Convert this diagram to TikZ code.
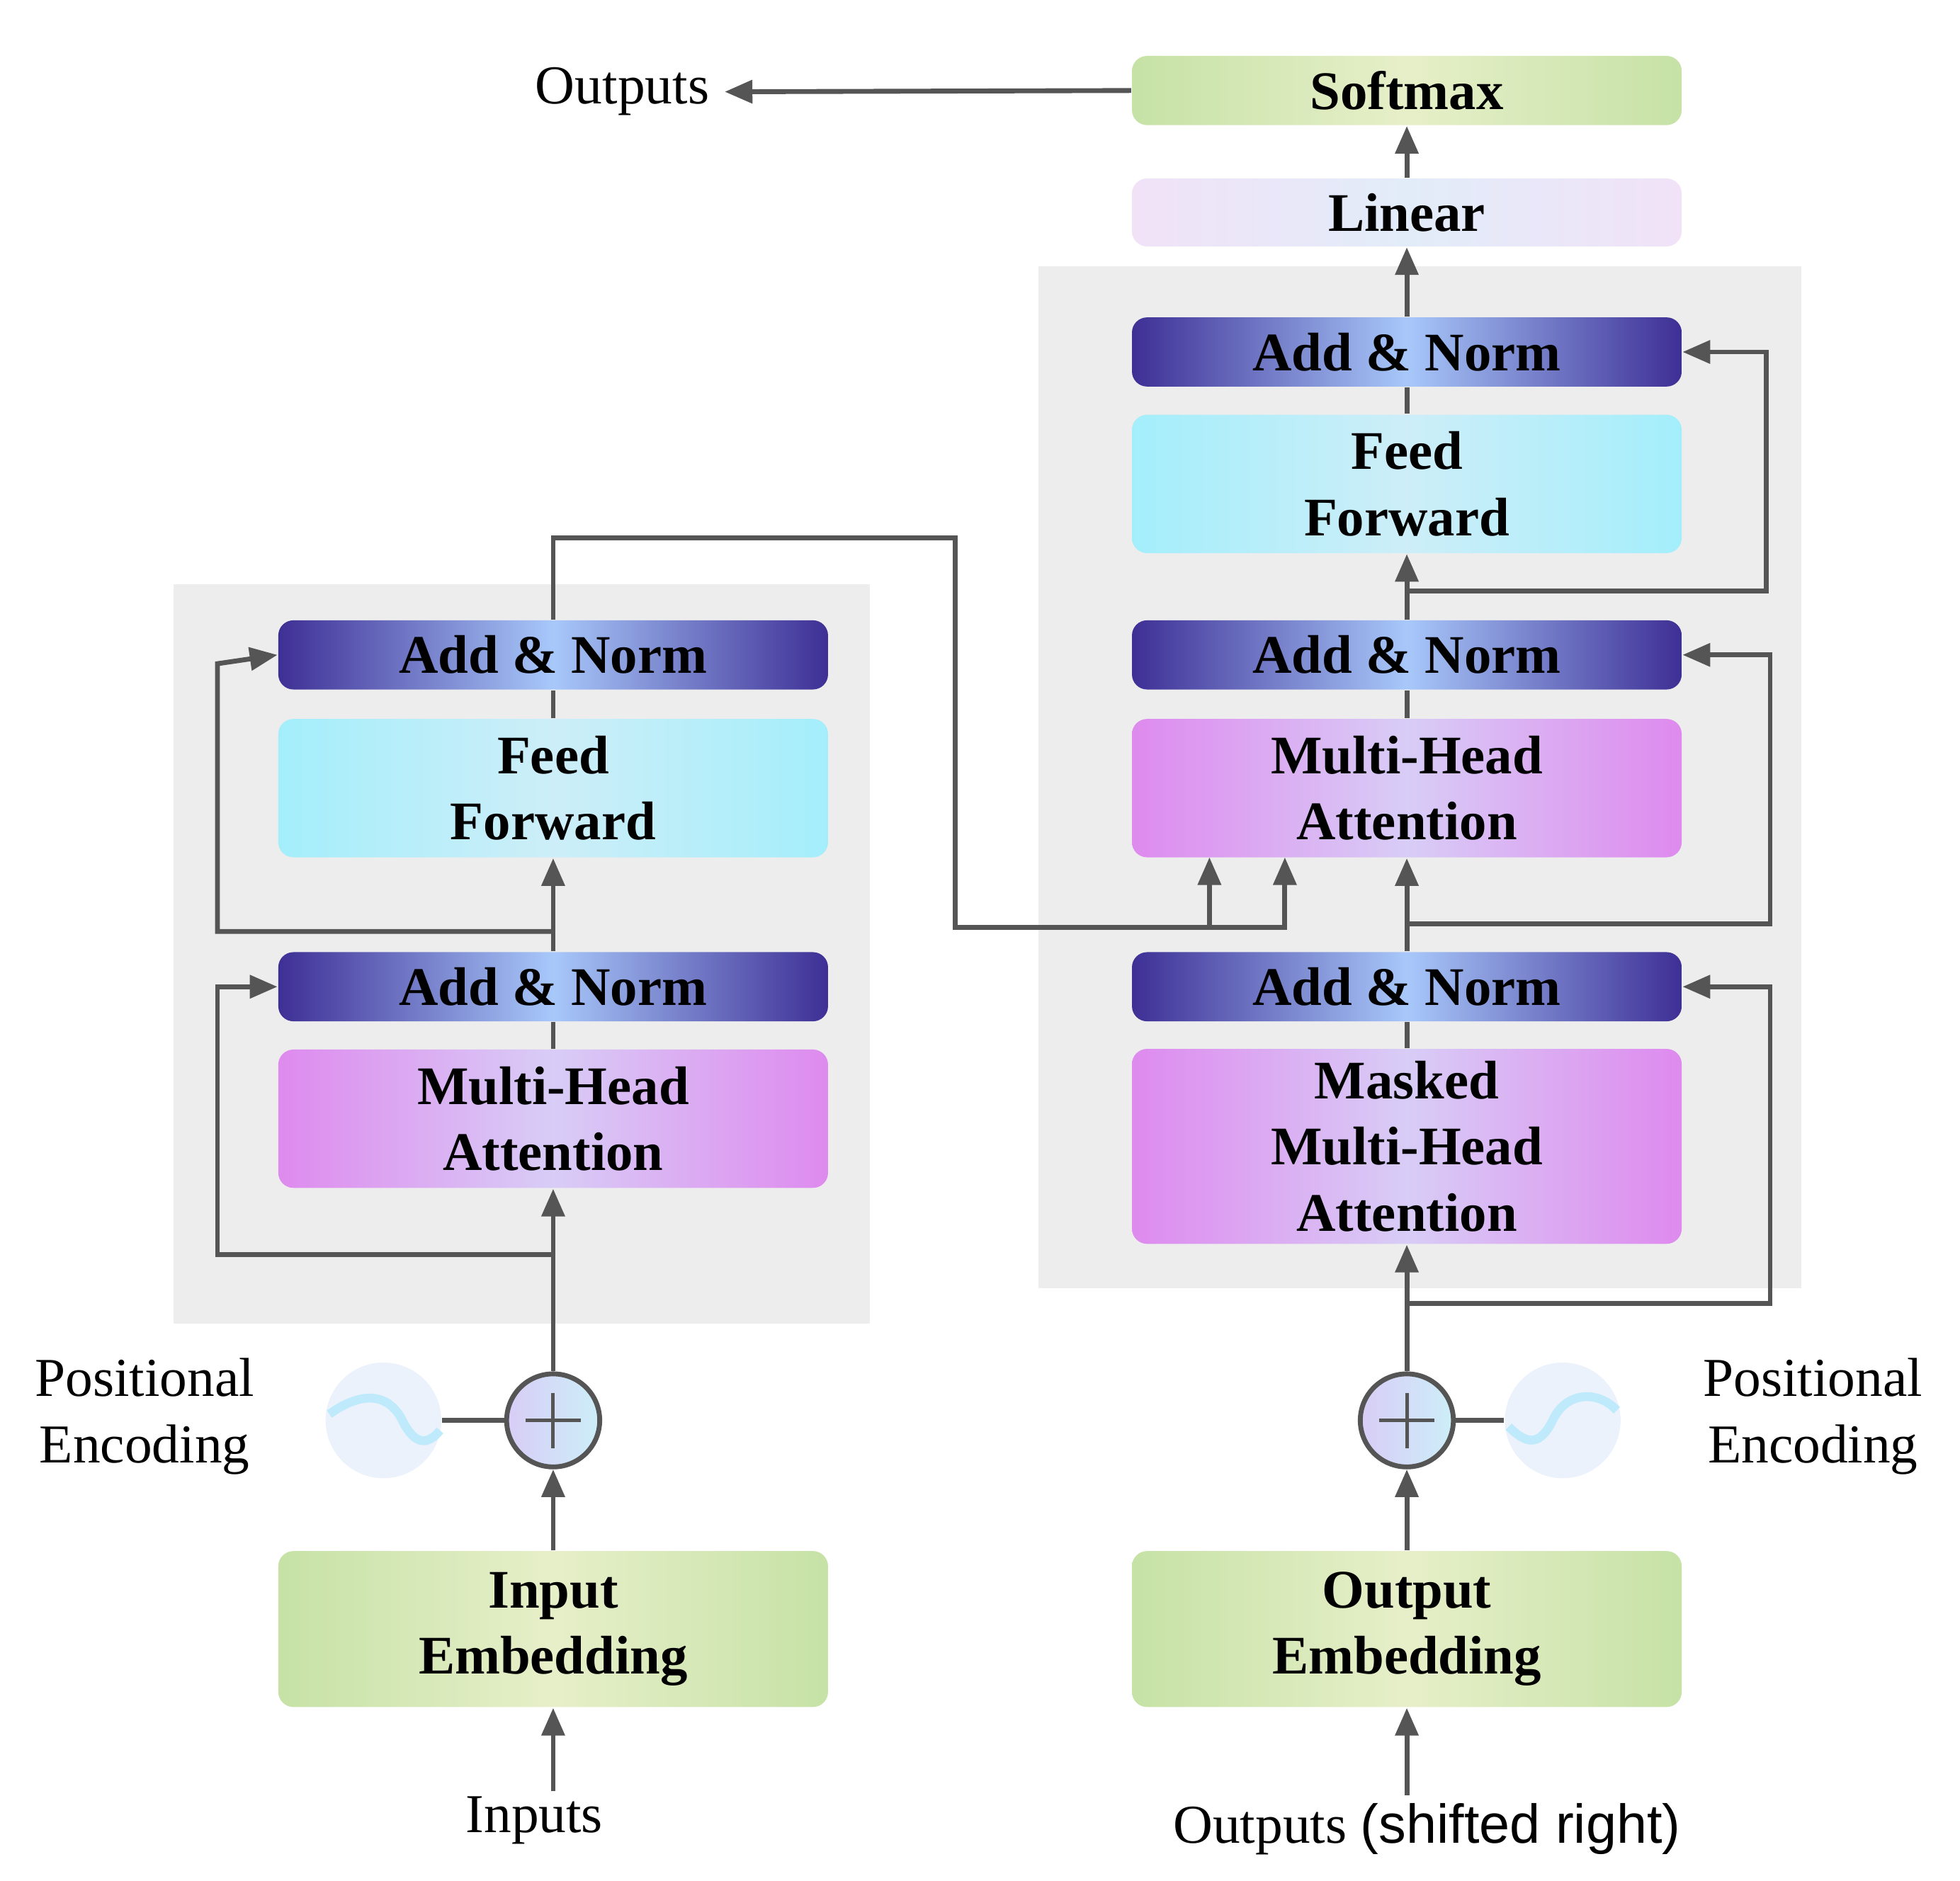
\documentclass[tikz,border=0pt]{standalone}
\usepackage{fontspec}
\setmainfont{Liberation Serif}
\newfontfamily\sansf{Liberation Sans}
\usetikzlibrary{arrows.meta,shadings}
\definecolor{ln}{HTML}{555555}
\definecolor{anD}{HTML}{3E2F95}
\definecolor{anL}{HTML}{A8C8FA}
\definecolor{ffL}{HTML}{CDEEF8}
\definecolor{ffD}{HTML}{A4EEFB}
\definecolor{mhD}{HTML}{DE8AEE}
\definecolor{mhL}{HTML}{D8CDF6}
\definecolor{emD}{HTML}{C6E2A6}
\definecolor{emL}{HTML}{E7EFC9}
\definecolor{liD}{HTML}{F1E2F8}
\definecolor{liL}{HTML}{E2ECF9}
\begin{document}
\begin{tikzpicture}[x=0.01cm,y=-0.01cm,
  box/.style={rounded corners=0.12cm,minimum width=4.37cm,align=center,
    font=\bfseries\fontsize{12.3}{15}\selectfont,inner sep=0pt},
  an/.style={box,minimum height=0.55cm,left color=anD,right color=anD,middle color=anL},
  ff/.style={box,minimum height=1.1cm,left color=ffD,right color=ffD,middle color=ffL},
  mh/.style={box,left color=mhD,right color=mhD,middle color=mhL},
  em/.style={box,left color=emD,right color=emD,middle color=emL},
  li/.style={box,minimum height=0.54cm,left color=liD,right color=liD,middle color=liL},
  lbl/.style={font=\fontsize{12.4}{15}\selectfont,align=center},
  ln/.style={draw=ln,line width=1.1pt},
  arr/.style={ln,-{Triangle[length=0.22cm,width=0.18cm]}},
  plus/.style={circle,draw=ln,line width=1.1pt,minimum size=0.74cm,inner sep=0pt,
    left color=mhL,right color=ffL},
  pe/.style={circle,minimum size=0.92cm,inner sep=0pt,fill=liL!70!white}]
\useasboundingbox (0,0) rectangle (1559,1496);
% backgrounds
\fill[black!7] (138,465) rectangle (692,1053);
\fill[black!7] (826,212) rectangle (1433,1025);
% encoder
\node[an] (ean2) at (440,521) {Add \& Norm};
\node[ff] (eff) at (440,627) {Feed\\Forward};
\node[an] (ean1) at (440,785) {Add \& Norm};
\node[mh,minimum height=1.1cm] (emh) at (440,890) {Multi-Head\\Attention};
\node[plus] (eplus) at (440,1130) {};
\draw[ln,line width=0.8pt] (eplus.center)+(-22,0)--+(22,0) (eplus.center)+(0,-22)--+(0,22);
\node[pe] (epe) at (305,1130) {};
\draw[cyan!25,line width=2pt] (262,1125) .. controls (290,1105) and (310,1110) .. (320,1130) .. controls (330,1150) and (340,1150) .. (350,1138);
\node[em,minimum height=1.24cm] (eemb) at (440,1296) {Input\\Embedding};
\node[lbl] (inp) at (425,1448) {Inputs};
\coordinate (inpt) at (440,1425);
\node[lbl] (epl) at (115,1127) {Positional\\Encoding};
% decoder
\node[box,minimum height=0.55cm,left color=emD,right color=emD,middle color=emL] (soft) at (1119,72) {Softmax};
\node[li] (lin) at (1119,169) {Linear};
\node[an] (dan3) at (1119,280) {Add \& Norm};
\node[ff] (dff) at (1119,385) {Feed\\Forward};
\node[an] (dan2) at (1119,521) {Add \& Norm};
\node[mh,minimum height=1.1cm] (dmh) at (1119,627) {Multi-Head\\Attention};
\node[an] (dan1) at (1119,785) {Add \& Norm};
\node[mh,minimum height=1.55cm] (dmm) at (1119,912) {Masked\\Multi-Head\\Attention};
\node[plus] (dplus) at (1119,1130) {};
\draw[ln,line width=0.8pt] (dplus.center)+(-22,0)--+(22,0) (dplus.center)+(0,-22)--+(0,22);
\node[pe] (dpe) at (1243,1130) {};
\draw[cyan!25,line width=2pt] (1200,1135) .. controls (1215,1150) and (1225,1150) .. (1235,1130) .. controls (1245,1108) and (1270,1105) .. (1286,1122);
\node[em,minimum height=1.24cm] (demb) at (1119,1296) {Output\\Embedding};
\node[lbl] (outsr) at (1135,1455) {Outputs {\sansf (shifted right)}};
\coordinate (outt) at (1119,1428);
\node[lbl] (dpl) at (1442,1127) {Positional\\Encoding};
\node[lbl] (outs) at (495,73) {Outputs};
% encoder connectors
\draw[arr] (inpt) -- (eemb.south);
\draw[arr] (eemb.north) -- (eplus.south);
\draw[ln] (epe.east) -- (eplus.west);
\draw[arr] (eplus.north) -- (emh.south);
\draw[ln] (emh.north) -- (ean1.south);
\draw[arr] (ean1.north) -- (eff.south);
\draw[ln] (eff.north) -- (ean2.south);
\coordinate (er1) at (440,998);
\coordinate (er2) at (440,741);
\draw[arr] (er1) -| (173,785) -- (ean1.west);
\draw[arr] (er2) -| (173,528) -- (ean2.west);
% cross
\coordinate (c1) at (440,428);
\coordinate (c2) at (760,428);
\coordinate (c3) at (760,738);
\coordinate (c4) at (1022,738);
\coordinate (c5) at (962,738);
\draw[arr] (ean2.north) -- (c1) -- (c2) -- (c3) -- (c4) -- (1022,682);
\draw[arr] (c5) -- (962,682);
% decoder connectors
\draw[arr] (outt) -- (demb.south);
\draw[arr] (demb.north) -- (dplus.south);
\draw[ln] (dpe.west) -- (dplus.east);
\draw[arr] (dplus.north) -- (dmm.south);
\draw[ln] (dmm.north) -- (dan1.south);
\draw[arr] (dan1.north) -- (dmh.south);
\draw[ln] (dmh.north) -- (dan2.south);
\draw[arr] (dan2.north) -- (dff.south);
\draw[ln] (dff.north) -- (dan3.south);
\draw[arr] (dan3.north) -- (lin.south);
\draw[arr] (lin.north) -- (soft.south);
\draw[arr] (soft.west) -- (outs.east);
\coordinate (dr1) at (1119,1037);
\coordinate (dr2) at (1119,735);
\coordinate (dr3) at (1119,470);
\draw[arr] (dr1) -| (1408,785) -- (dan1.east);
\draw[arr] (dr2) -| (1408,521) -- (dan2.east);
\draw[arr] (dr3) -| (1405,280) -- (dan3.east);
\end{tikzpicture}
\end{document}
